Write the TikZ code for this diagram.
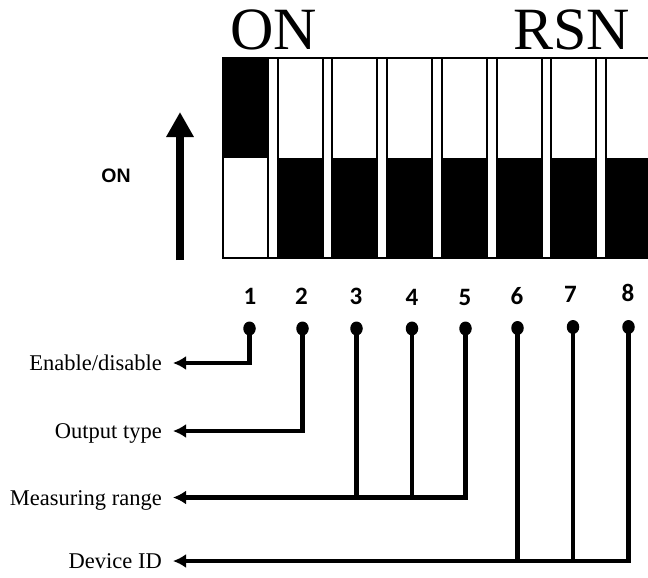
\documentclass[tikz,border=0pt]{standalone}
\usepackage{fontspec}
\setmainfont{Liberation Serif}
\newfontfamily\numfont{Carlito}
\newfontfamily\sansbold{Liberation Sans}
\usetikzlibrary{arrows.meta}
\tikzset{
  swline/.style={line width=2pt, line join=miter},
  dot/.style={ellipse, fill=black, inner sep=0pt, minimum width=12.5pt, minimum height=14pt},
  numlabel/.style={font=\numfont\bfseries\fontsize{25}{25}\selectfont, inner sep=0pt},
  desc/.style={font=\fontsize{22.5}{22.5}\selectfont, inner xsep=0pt, inner ysep=0pt, text height=15pt, text depth=0pt, anchor=east},
  conn/.style={line width=4.3pt, line join=miter},
  connarrow/.style={conn, -{Latex[length=13pt, width=14pt]}},
  bigtitle/.style={font=\fontsize{60}{60}\selectfont, inner sep=0pt, anchor=base west},
}
\usetikzlibrary{shapes.geometric}
\begin{document}
\begin{tikzpicture}[x=1pt, y=-1pt]
\useasboundingbox (0,0) rectangle (648,578);
\clip (0,0) rectangle (648,578);
\fill[white] (0,0) rectangle (648,578);

% titles
\node[bigtitle] (ontitle) at (230,50) {ON};
\node[bigtitle] (rsntitle) at (513,50) {RSN};

% DIP switch block
\foreach \i in {1,...,8} {
  \pgfmathsetmacro\xl{223+(\i-1)*54.7}
  \ifnum\i=1
    \fill[black] (\xl,58) rectangle (\xl+45,158);
  \else
    \fill[black] (\xl,158) rectangle (\xl+45,258);
  \fi
  \draw[swline] (\xl,58) rectangle (\xl+45,258);
}
\draw[swline] (223,58) -- (660,58);
\draw[swline] (223,258) -- (660,258);

% left ON indicator
\node[font=\sansbold\bfseries\fontsize{19.5}{19.5}\selectfont, inner sep=0pt] (onlabel) at (116,176) {ON};
\coordinate (onbot) at (180,260);
\coordinate (ontop) at (180,112);
\draw[line width=8.7pt, -{Triangle[length=25pt, width=26pt]}] (onbot) -- (ontop);

% numbers
\node[numlabel] (n1) at (250,296.5) {1};
\node[numlabel] (n2) at (301.5,296.5) {2};
\node[numlabel] (n3) at (356,296.5) {3};
\node[numlabel] (n4) at (412,297) {4};
\node[numlabel] (n5) at (465,297) {5};
\node[numlabel] (n6) at (517,296) {6};
\node[numlabel] (n7) at (570.5,294) {7};
\node[numlabel] (n8) at (628,292.5) {8};

% dots
\node[dot] (d1) at (249.5,328.5) {};
\node[dot] (d2) at (302.5,328.5) {};
\node[dot] (d3) at (356.5,328.5) {};
\node[dot] (d4) at (412,328.5) {};
\node[dot] (d5) at (465.5,328.5) {};
\node[dot] (d6) at (517.5,328) {};
\node[dot] (d7) at (573,327) {};
\node[dot] (d8) at (628.5,327) {};

% descriptions
\node[desc] (l1) at (162,363) {Enable/disable};
\node[desc] (l2) at (162,431) {Output type};
\node[desc] (l3) at (162,497.5) {Measuring range};
\node[desc] (l4) at (162,561) {Device ID};

% connectors
\draw[connarrow] (d1.center) |- ([xshift=11pt]l1.east);
\draw[connarrow] (d2.center) |- ([xshift=11pt]l2.east);
\draw[connarrow] (d5.center) |- ([xshift=11pt]l3.east);
\draw[conn] (d3.center) -- (d3.center |- l3.east);
\draw[conn] (d4.center) -- (d4.center |- l3.east);
\draw[connarrow] (d8.center) |- ([xshift=11pt]l4.east);
\draw[conn] (d6.center) -- (d6.center |- l4.east);
\draw[conn] (d7.center) -- (d7.center |- l4.east);
\end{tikzpicture}
\end{document}
